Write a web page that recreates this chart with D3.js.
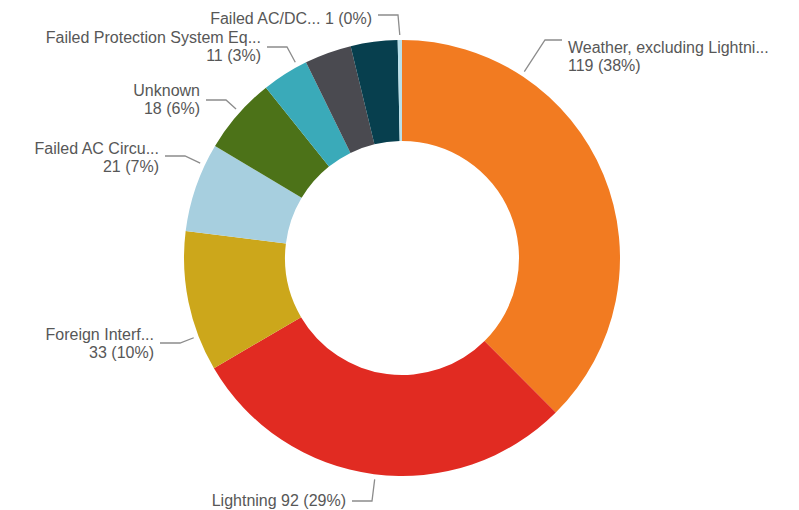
<!DOCTYPE html>
<html>
<head>
<meta charset="utf-8">
<script src="https://cdn.jsdelivr.net/npm/d3@7"></script>
<style>
  html, body { margin: 0; padding: 0; background: #fff; }
  svg { display: block; }
  .lbl { font-family: "Liberation Sans", Arial, sans-serif; font-size: 16px; fill: #575757; }
  .leader { fill: none; stroke: #8c8c8c; stroke-width: 1.3; }
</style>
</head>
<body>
<div id="container"></div>
<script>
// slices, clockwise from 12 o'clock
const categories = [
  "Weather, excluding Lightni...",
  "Lightning",
  "Foreign Interf...",
  "Failed AC Circu...",
  "Unknown",
  "Failed Protection System Eq...",
  "(unlabeled 1)",
  "(unlabeled 2)",
  "Failed AC/DC..."
];
const values = [119, 92, 33, 21, 18, 11, 11, 11, 1];
const colors = ["#f27b21", "#e12b22", "#cca71b", "#a7cfdf", "#4c7218", "#3aaab9", "#4a4a50", "#073f4e", "#b9e0ea"];

// label placement (elbow of leader, side, first text line, one or two lines)
const labelLayout = [
  { ex: 545, ey: 40, side: "right", ty: 47, oneLine: false },
  { ex: 372, ey: 501, side: "left", ty: 500, oneLine: true },
  { ex: 180, ey: 343, side: "left", ty: 334, oneLine: false },
  { ex: 185, ey: 156, side: "left", ty: 148, oneLine: false },
  { ex: 226, ey: 100, side: "left", ty: 90, oneLine: false },
  { ex: 287, ey: 47, side: "left", ty: 37, oneLine: false },
  null,
  null,
  { ex: 398, ey: 15, side: "left", ty: 18, oneLine: true }
];

const width = 799, height = 510;
const cx = 402, cy = 258;
const outerR = 218, innerR = 117;

const svg = d3.select("#container")
  .append("svg")
  .attr("width", width)
  .attr("height", height);

const total = d3.sum(values);
const data = categories.map((c, i) => ({ name: c, value: values[i], color: colors[i], layout: labelLayout[i] }));

const pie = d3.pie().value(d => d.value).sort(null);
const arc = d3.arc().innerRadius(innerR).outerRadius(outerR);

const arcs = pie(data);

const g = svg.append("g").attr("transform", `translate(${cx},${cy})`);

g.selectAll("path.slice")
  .data(arcs)
  .enter()
  .append("path")
  .attr("class", "slice")
  .attr("d", arc)
  .attr("fill", d => d.data.color);

// labels + leaders
const labelled = arcs.filter(d => d.data.layout);

labelled.forEach(d => {
  const L = d.data.layout;
  const dir = L.side === "left" ? -1 : 1;
  // leader end: nearest point on the slice's outer edge
  let a = Math.atan2(L.ex - cx, -(L.ey - cy));
  if (a < 0) a += 2 * Math.PI;
  const pad = Math.min(0.02, (d.endAngle - d.startAngle) / 2);
  a = Math.max(d.startAngle + pad, Math.min(d.endAngle - pad, a));
  const r = outerR + 5;
  const px = cx + r * Math.sin(a), py = cy - r * Math.cos(a);

  const seg = L.side === "left" ? 20 : 17;
  svg.append("path")
    .attr("class", "leader")
    .attr("d", d3.line()([[px, py], [L.ex, L.ey], [L.ex + dir * seg, L.ey]]));

  const pct = Math.round(d.data.value / total * 100);
  const tx = L.ex + dir * (seg + 6);
  const anchor = L.side === "left" ? "end" : "start";
  const text = svg.append("text")
    .attr("class", "lbl")
    .attr("text-anchor", anchor)
    .attr("dominant-baseline", "central");

  if (L.oneLine) {
    text.append("tspan").attr("x", tx).attr("y", L.ty)
      .text(`${d.data.name} ${d.data.value} (${pct}%)`);
  } else {
    text.append("tspan").attr("x", tx).attr("y", L.ty).text(d.data.name);
    text.append("tspan").attr("x", tx).attr("y", L.ty + 18).text(`${d.data.value} (${pct}%)`);
  }
});
</script>
</body>
</html>
